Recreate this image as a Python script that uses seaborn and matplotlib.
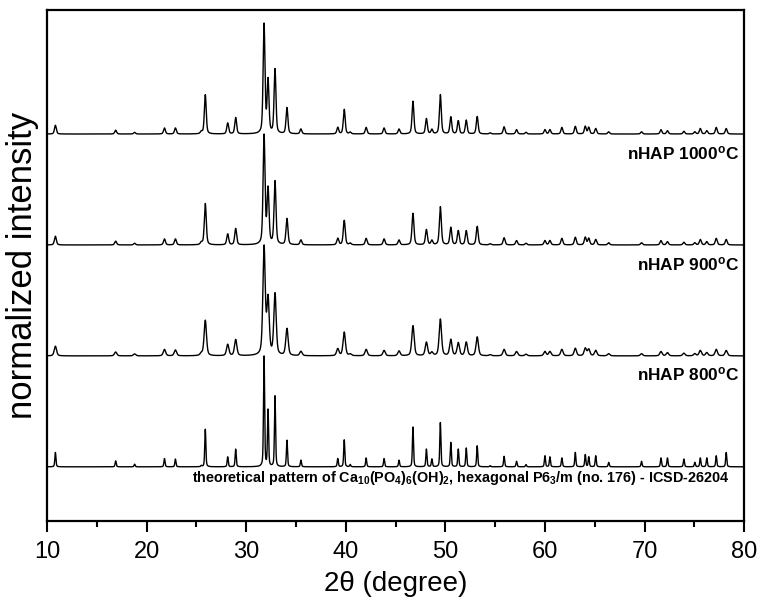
import numpy as np
import pandas as pd
import matplotlib
matplotlib.use("Agg")
import matplotlib.pyplot as plt
from matplotlib.ticker import MultipleLocator
import seaborn as sns

# ---- data -----------------------------------------------------------------
peak_pos = [10.85, 16.9, 18.8, 21.8, 22.9, 25.5, 25.9, 28.15, 28.95, 31.8,
            32.2, 32.9, 34.1, 35.5, 39.2, 39.85, 40.45, 42.05, 43.85, 45.35,
            46.75, 48.1, 48.65, 49.5, 50.55, 51.3, 52.1, 53.2, 54.5, 55.9,
            57.15, 58.1, 60.0, 60.5, 61.7, 63.05, 64.05, 64.4, 65.1, 66.4,
            69.7, 71.65, 72.3, 73.95, 75.05, 75.6, 76.25, 77.2, 78.2]

int_1000 = [0.08, 0.035, 0.015, 0.055, 0.055, 0.02, 0.36, 0.10, 0.15, 1.0,
            0.48, 0.59, 0.24, 0.045, 0.06, 0.225, 0.015, 0.06, 0.055, 0.045,
            0.30, 0.14, 0.04, 0.36, 0.156, 0.12, 0.126, 0.16, 0.01, 0.066,
            0.04, 0.015, 0.04, 0.04, 0.06, 0.07, 0.07, 0.06, 0.05, 0.02,
            0.02, 0.04, 0.03, 0.025, 0.02, 0.05, 0.03, 0.06, 0.05]

int_900 = [0.08, 0.035, 0.015, 0.055, 0.055, 0.02, 0.38, 0.10, 0.15, 1.0,
           0.50, 0.58, 0.24, 0.045, 0.06, 0.225, 0.015, 0.06, 0.055, 0.045,
           0.29, 0.14, 0.04, 0.35, 0.16, 0.13, 0.13, 0.17, 0.01, 0.066,
           0.04, 0.015, 0.04, 0.04, 0.06, 0.07, 0.07, 0.06, 0.05, 0.02,
           0.02, 0.04, 0.03, 0.025, 0.02, 0.05, 0.03, 0.06, 0.05]

int_800 = [0.09, 0.036, 0.018, 0.06, 0.054, 0.02, 0.33, 0.105, 0.15, 1.0,
           0.51, 0.57, 0.25, 0.04, 0.065, 0.22, 0.015, 0.06, 0.05, 0.045,
           0.28, 0.125, 0.03, 0.34, 0.15, 0.12, 0.126, 0.175, 0.01, 0.06,
           0.04, 0.015, 0.04, 0.04, 0.06, 0.07, 0.07, 0.06, 0.05, 0.02,
           0.02, 0.04, 0.03, 0.025, 0.02, 0.05, 0.03, 0.06, 0.05]

int_theo = [0.13, 0.054, 0.024, 0.075, 0.07, 0.01, 0.34, 0.09, 0.16, 1.0,
            0.51, 0.64, 0.24, 0.06, 0.075, 0.245, 0.02, 0.08, 0.075, 0.06,
            0.36, 0.16, 0.07, 0.40, 0.22, 0.16, 0.17, 0.19, 0.01, 0.095,
            0.05, 0.02, 0.1, 0.09, 0.08, 0.13, 0.11, 0.09, 0.1, 0.04,
            0.05, 0.08, 0.08, 0.07, 0.04, 0.08, 0.08, 0.1, 0.13]

samples = ["nHAP 1000", "nHAP 900", "nHAP 800", "theoretical"]
intensities = [int_1000, int_900, int_800, int_theo]
peak_fwhm = [0.22, 0.23, 0.28, 0.13]
offsets = [3, 2, 1, 0]

labels = [r"nHAP 1000$^\mathregular{o}$C",
          r"nHAP 900$^\mathregular{o}$C",
          r"nHAP 800$^\mathregular{o}$C",
          r"theoretical pattern of Ca$_{10}$(PO$_4$)$_6$(OH)$_2$, "
          r"hexagonal P6$_3$/m (no. 176) - ICSD-26204"]

# ---- build patterns from the peak list ------------------------------------
grid = np.linspace(10, 80, 8001)


def pattern(pos, amp, w, eta=0.45):
    y = np.zeros_like(grid)
    for p, a in zip(pos, amp):
        d2 = 4 * (grid - p) ** 2 / w ** 2
        y += a * ((1 - eta) * np.exp(-np.log(2) * d2) + eta / (1 + d2))
    return y / y.max()


frames = []
for s, amp, w, off in zip(samples, intensities, peak_fwhm, offsets):
    frames.append(pd.DataFrame({"two_theta": grid,
                                "intensity": pattern(peak_pos, amp, w) + off,
                                "sample": s}))
df = pd.concat(frames, ignore_index=True)

# ---- plot -----------------------------------------------------------------
sns.set_style("ticks")
plt.rcParams["font.family"] = ["Liberation Sans", "DejaVu Sans"]
plt.rcParams["text.color"] = "black"
plt.rcParams["axes.labelcolor"] = "black"
plt.rcParams["xtick.color"] = "black"
plt.rcParams["ytick.color"] = "black"
plt.rcParams["mathtext.fontset"] = "custom"
plt.rcParams["mathtext.rm"] = "Liberation Sans:bold"
plt.rcParams["mathtext.bf"] = "Liberation Sans:bold"
plt.rcParams["mathtext.it"] = "Liberation Sans:bold"
plt.rcParams["mathtext.default"] = "rm"

fig = plt.figure(figsize=(7.57, 6.11), dpi=100)
ax = fig.add_axes([0.062, 0.147, 0.921, 0.837])

for s in samples:
    sns.lineplot(data=df[df["sample"] == s], x="two_theta", y="intensity",
                 color="black", linewidth=1.0, ax=ax, legend=False)

ax.set_xlim(10, 80)
ax.set_ylim(-0.49, 4.12)
ax.set_yticks([])
ax.xaxis.set_major_locator(MultipleLocator(10))
ax.xaxis.set_minor_locator(MultipleLocator(5))
ax.tick_params(axis="x", which="major", direction="out", length=8, width=1.5,
               labelsize=17, pad=6, colors="black")
ax.tick_params(axis="x", which="minor", direction="out", length=4, width=1.5,
               colors="black")
for sp in ax.spines.values():
    sp.set_linewidth(1.6)
    sp.set_color("black")

ax.set_xlabel("2θ (degree)", fontsize=20, labelpad=6, color="black")
ax.set_ylabel("normalized intensity", fontsize=25, labelpad=6, color="black")

for lab, off, s in zip(labels, offsets, samples):
    if s == "theoretical":
        ax.text(78.5, off - 0.1, lab, ha="right", va="center",
                fontsize=10.4, fontweight="bold", color="black")
    else:
        ax.text(79.5, off - 0.17, lab, ha="right", va="center",
                fontsize=12.4, fontweight="bold", color="black")

fig.savefig("out.png", dpi=100)
